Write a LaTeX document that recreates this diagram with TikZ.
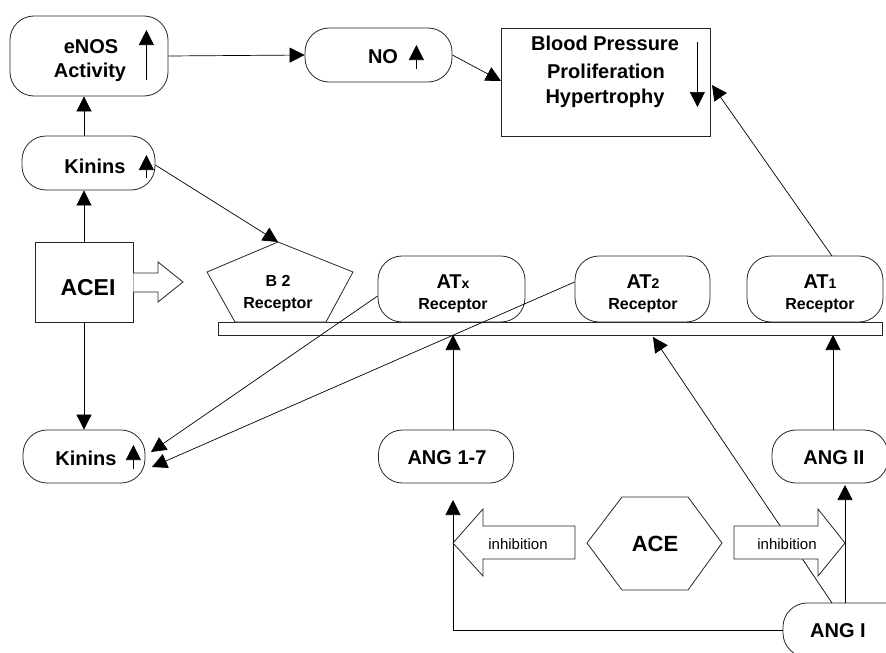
\documentclass[tikz,border=0pt]{standalone}
\usepackage{fontspec}
\setmainfont{Liberation Sans}
\usetikzlibrary{arrows.meta,calc}
\tikzset{
  box/.style={draw=black!85, line width=0.8pt, fill=white, inner sep=0pt},
  rbox/.style={box, rounded corners=24pt},
  recbox/.style={box, rounded corners=24pt, minimum height=66pt},
  shapeline/.style={draw=black!85, line width=0.8pt, fill=white},
  txt/.style={inner sep=0pt, anchor=base, font=\bfseries\fontsize{20}{22}\selectfont},
  bigtxt/.style={inner sep=0pt, anchor=base, font=\bfseries\fontsize{23}{24}\selectfont},
  rtxt/.style={inner sep=0pt, anchor=base, font=\bfseries\fontsize{16}{18}\selectfont},
  itxt/.style={inner sep=0pt, anchor=base, font=\fontsize{15}{18}\selectfont},
  conn/.style={line width=0.7pt, -{Triangle[length=15pt,width=15pt]}},
}
\newcommand{\ATsub}[1]{{\fontsize{20}{20}\selectfont AT}{\fontsize{14}{14}\selectfont #1}}
\begin{document}
\begin{tikzpicture}[x=1pt,y=-1pt]
\useasboundingbox (0,0) rectangle (886,653);
% ---------- boxes ----------
\node[rbox, minimum width=158pt, minimum height=80pt] (enos) at (89,56) {};
\node[rbox, minimum width=147pt, minimum height=54pt] (no) at (378.5,55) {};
\node[box, minimum width=209pt, minimum height=108pt] (blood) at (605.5,82) {};
\node[rbox, minimum width=133pt, minimum height=54pt] (kin1) at (88.5,163) {};
\node[box, minimum width=98pt, minimum height=80pt] (acei) at (84,282) {};
\node[rbox, minimum width=122pt, minimum height=53pt] (kin2) at (84,456.5) {};
\node[recbox, minimum width=147pt] (atx) at (451.5,289) {};
\node[recbox, minimum width=135pt] (at2) at (642.5,289) {};
\node[recbox, minimum width=136pt] (at1) at (815,289) {};
\node[box, minimum width=664pt, minimum height=13pt] (mem) at (550,328.5) {};
\node[rbox, minimum width=135pt, minimum height=53pt] (ang17) at (446,456.5) {};
\node[rbox, minimum width=116pt, minimum height=53pt] (ang2) at (830,456.5) {};
\node[rbox, minimum width=130pt, minimum height=54pt] (ang1) at (848,630) {};
% B2 receptor (pentagon)
\coordinate (b2top) at (278,242);
\draw[shapeline] (b2top) -- (353,272) -- (326,322) -- (235,322) -- (207,272) -- cycle;
% ---------- named end points ----------
\coordinate (bloodIn) at (501,81);
\coordinate (bloodIn2) at (712,85);
\coordinate (at1top) at (832,256);
\coordinate (k2a) at (151,452);
\coordinate (k2b) at (152,467);
\coordinate (m17) at (453,335);
\coordinate (m2) at (833,335);
\coordinate (mdiag) at (653,337);
\coordinate (a1diag) at (832,603);
\coordinate (a1top) at (845,603);
\coordinate (a2bot) at (845,485);
\coordinate (c17) at (453,500);
% ---------- connectors ----------
\draw[conn] (enos.east) -- (no.west);
\draw[conn] (no.east) -- (bloodIn);
\draw[conn] (at1top) -- (bloodIn2);
\draw[conn] (kin1.north -| acei.north) -- (enos.south -| acei.north);
\draw[conn] (acei.north) -- (kin1.south -| acei.north);
\draw[conn] (acei.south) -- (kin2.north -| acei.south);
\draw[conn] ([yshift=-2pt]kin1.east) -- (b2top);
\draw[conn] ([yshift=-7pt]atx.west) -- (k2a);
\draw[conn] ([yshift=7pt]at2.west) -- (k2b);
\draw[conn] (ang17.north -| m17) -- (m17);
\draw[conn] (ang2.north -| m2) -- (m2);
\draw[conn] (a1diag) -- (mdiag);
\draw[conn] (a1top) -- (a2bot);
\draw[conn] (ang1.west) -| (c17);
% ---------- in-box arrows ----------
\draw[conn] ([xshift=-22pt,yshift=-24pt]enos.east) -- ([xshift=-22pt,yshift=26pt]enos.east);
\draw[conn] ([xshift=-9pt,yshift=-15pt]kin1.east) -- ([xshift=-9pt,yshift=8pt]kin1.east);
\draw[conn] ([xshift=-36pt,yshift=-14pt]no.east) -- ([xshift=-36pt,yshift=10pt]no.east);
\draw[conn] ([xshift=-13pt,yshift=40pt]blood.east) -- ([xshift=-13pt,yshift=-25pt]blood.east);
\draw[conn] ([xshift=-12pt,yshift=-12.5pt]kin2.east) -- ([xshift=-12pt,yshift=11.5pt]kin2.east);
% ---------- block arrows and ACE ----------
\draw[shapeline] (acei.east |- 0,273) -- (158,273) -- (158,262) -- (183,282) -- (158,302) -- (158,292) -- (acei.east |- 0,292);
\draw[shapeline] (575,526) -- (483,526) -- (483,509) -- (453,543) -- (483,576) -- (483,559) -- (575,559) -- cycle;
\draw[shapeline] (734,526) -- (818,526) -- (818,509) -- (845,543) -- (818,576) -- (818,559) -- (734,559) -- cycle;
\draw[shapeline] (622,497) -- (688,497) -- (722,543) -- (688,590) -- (622,590) -- (587,543) -- cycle;
% ---------- texts ----------
\node[txt] (tenos1) at (91,53) {eNOS};
\node[txt] (tenos2) at (90,77) {Activity};
\node[txt] (tno) at (383,63) {NO};
\node[txt] (tbp1) at (605,50) {Blood Pressure};
\node[txt] (tbp2) at (606,78) {Proliferation};
\node[txt] (tbp3) at (605,103) {Hypertrophy};
\node[txt] (tkin1) at (95,173) {Kinins};
\node[bigtxt] (tacei) at (88,295) {ACEI};
\node[rtxt] (tb2a) at (278,286) {B 2};
\node[rtxt] (tb2b) at (278,308) {Receptor};
\node[inner sep=0pt, anchor=base, font=\bfseries] (tatxa) at (453,288) {\ATsub{x}};
\node[rtxt] (tatxb) at (453,309) {Receptor};
\node[inner sep=0pt, anchor=base, font=\bfseries] (tat2a) at (643,288) {\ATsub{2}};
\node[rtxt] (tat2b) at (643,309) {Receptor};
\node[inner sep=0pt, anchor=base, font=\bfseries] (tat1a) at (820,288) {\ATsub{1}};
\node[rtxt] (tat1b) at (820,309) {Receptor};
\node[txt] (tkin2) at (86,465) {Kinins};
\node[txt] (tang17) at (447,464) {ANG 1-7};
\node[txt] (tang2) at (834,464) {ANG II};
\node[itxt] (tinh1) at (518,549) {inhibition};
\node[itxt] (tinh2) at (787,549) {inhibition};
\node[txt, font=\bfseries\fontsize{22}{24}\selectfont] (tace) at (655,551) {ACE};
\node[txt] (tang1) at (838,637) {ANG I};
\end{tikzpicture}
\end{document}
